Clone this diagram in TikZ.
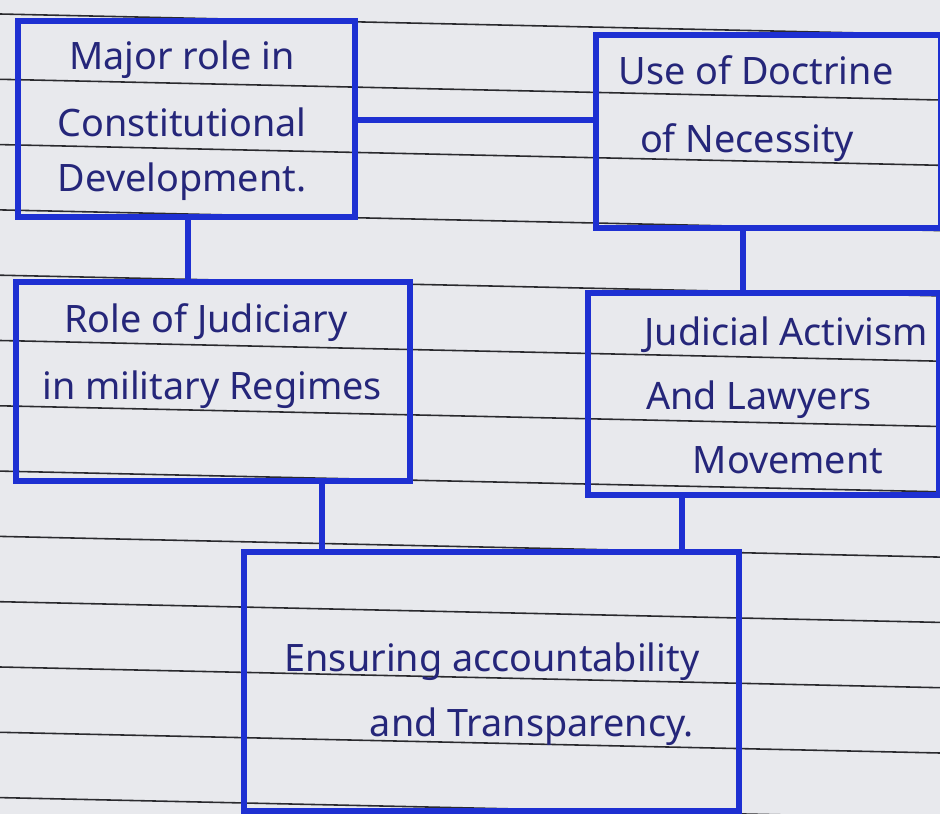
\documentclass[tikz,border=0pt]{standalone}
\usepackage{fontspec}
\setmainfont{Noto Sans}
\definecolor{paper}{HTML}{E8E9ED}
\definecolor{rule}{HTML}{2A2A2E}
\definecolor{ink}{HTML}{1E30D2}
\definecolor{pen}{HTML}{25267A}
\tikzset{
  box/.style={draw=ink, line width=3.2pt, rectangle, inner sep=0pt, anchor=north west},
  link/.style={draw=ink, line width=3.2pt},
  hand/.style={text=pen, font=\fontsize{21.5}{25}\selectfont, inner sep=0pt, anchor=center},
}
\begin{document}
\begin{tikzpicture}[x=0.02cm, y=-0.02cm]
\fill[paper] (0,0) rectangle (940,814);
\useasboundingbox (0,0) rectangle (940,814);
% ruled lines of the paper
\foreach \k in {0,...,12}{
  \draw[rule, line width=0.9pt] (0,{14+65.3*\k}) -- (940,{14+20.7+65.3*\k});
}
% boxes
\node[box, minimum width=6.74cm, minimum height=3.92cm] (b1) at (15,18) {};
\node[box, minimum width=6.90cm, minimum height=3.86cm] (b2) at (593,32) {};
\node[box, minimum width=7.88cm, minimum height=3.98cm] (b3) at (13,279) {};
\node[box, minimum width=7.02cm, minimum height=4.04cm] (b4) at (585,290) {};
\node[box, minimum width=9.90cm, minimum height=5.18cm] (b5) at (241,549) {};
% connectors
\draw[link] (b1.east |- 0,120) -- (b2.west |- 0,120);
\draw[link] (b1.south -| 188,0) -- (b3.north -| 188,0);
\draw[link] (b2.south -| 743,0) -- (b4.north -| 743,0);
\draw[link] (b3.south -| 322,0) -- (b5.north -| 322,0);
\draw[link] (b4.south -| 682,0) -- (b5.north -| 682,0);
% texts
\node[hand] (t1a) at (182,60) {Major role in};
\node[hand] (t1b) at (182,122) {Constitutional};
\node[hand] (t1c) at (182,182) {Development.};
\node[hand] (t2a) at (756,70) {Use of Doctrine};
\node[hand] (t2b) at (747,143) {of Necessity};
\node[hand] (t3a) at (206,323) {Role of Judiciary};
\node[hand] (t3b) at (212,390) {in military Regimes};
\node[hand] (t4a) at (786,335) {Judicial Activism};
\node[hand] (t4b) at (759,400) {And Lawyers};
\node[hand] (t4c) at (788,460) {Movement};
\node[hand] (t5a) at (492,662) {Ensuring accountability};
\node[hand] (t5b) at (532,727) {and Transparency.};
\end{tikzpicture}
\end{document}
